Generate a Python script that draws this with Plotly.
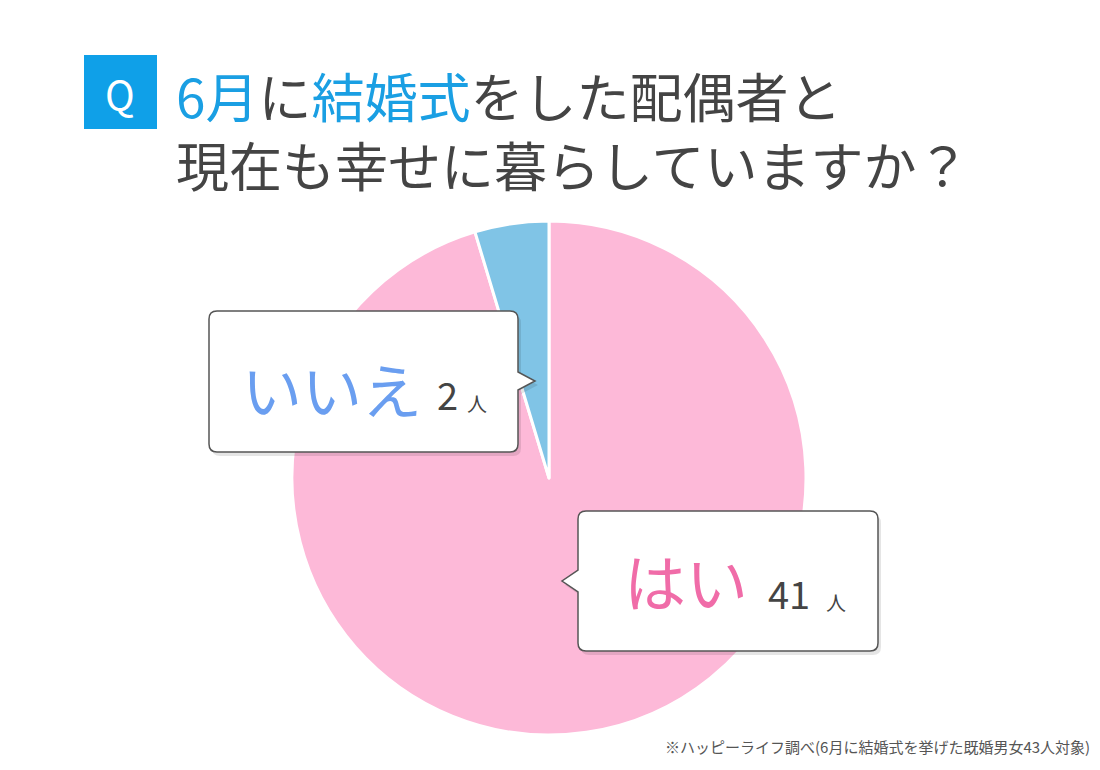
import plotly.graph_objects as go

labels = ["はい", "いいえ"]
counts = [41, 2]
colors = ["#FDB9D8", "#80C4E6"]
title_line1 = [("6月", "#1A9FE3"), ("に", "#444444"), ("結婚式", "#1A9FE3"), ("をした配偶者と", "#444444")]
title_line2 = "現在も幸せに暮らしていますか？"
note = "※ハッピーライフ調べ(6月に結婚式を挙げた既婚男女43人対象)"

W, H = 1100, 770
FONT = "Noto Sans CJK JP"
OFF = 8  # page margin of the html body


def px(x):
    return (x - OFF) / W


def py(y):
    return 1 - (y - OFF) / H


def callout(x0, y0, x1, y1, side, tip, r=8, dx=0, dy=0):
    # rounded box with a little pointer, built in pixels then put in paper units
    x0, x1, y0, y1 = x0 + dx, x1 + dx, y0 + dy, y1 + dy
    ty0, tx, ty, ty1 = tip[0] + dy, tip[1] + dx, tip[2] + dy, tip[3] + dy
    p = "M {} {} ".format(px(x0 + r), py(y0))
    p += "L {} {} ".format(px(x1 - r), py(y0))
    p += "Q {} {} {} {} ".format(px(x1), py(y0), px(x1), py(y0 + r))
    if side == "right":
        p += "L {} {} L {} {} L {} {} ".format(px(x1), py(ty0), px(tx), py(ty), px(x1), py(ty1))
    p += "L {} {} ".format(px(x1), py(y1 - r))
    p += "Q {} {} {} {} ".format(px(x1), py(y1), px(x1 - r), py(y1))
    p += "L {} {} ".format(px(x0 + r), py(y1))
    p += "Q {} {} {} {} ".format(px(x0), py(y1), px(x0), py(y1 - r))
    if side == "left":
        p += "L {} {} L {} {} L {} {} ".format(px(x0), py(ty1), px(tx), py(ty), px(x0), py(ty0))
    p += "L {} {} ".format(px(x0), py(y0 + r))
    p += "Q {} {} {} {} Z".format(px(x0), py(y0), px(x0 + r), py(y0))
    return p


fig = go.Figure()
fig.add_trace(go.Pie(
    labels=labels, values=counts, sort=False, direction="clockwise", rotation=0,
    marker=dict(colors=colors, line=dict(color="white", width=3)),
    textinfo="none", hoverinfo="label+value", showlegend=False,
    domain=dict(x=[px(292), px(806)], y=[py(735), py(221)]),
))

shapes = []
boxes = [
    (209, 311, 518, 452, "right", (372, 535, 381, 390)),
    (578, 511, 878, 651, "left", (570, 562, 581, 592)),
]
for b in boxes:
    shapes.append(dict(type="path", xref="paper", yref="paper",
                       path=callout(*b, dx=3, dy=4), fillcolor="rgba(0,0,0,0.10)",
                       line=dict(width=0), layer="above"))
    shapes.append(dict(type="path", xref="paper", yref="paper",
                       path=callout(*b), fillcolor="white",
                       line=dict(color="#555555", width=1.5), layer="above"))
# Q box
shapes.append(dict(type="rect", xref="paper", yref="paper",
                   x0=px(84), x1=px(157), y0=py(129), y1=py(55),
                   fillcolor="#0FA0E8", line=dict(width=0)))

ann = []


def txt(x, y, t, size, color, anchor="left"):
    ann.append(dict(x=px(x), y=py(y), xref="paper", yref="paper", text=t, showarrow=False,
                    xanchor=anchor, yanchor="middle", align="left",
                    font=dict(family=FONT, size=size, color=color)))


txt(120, 93, "Q", 40, "white", "center")
line1 = "".join("<span style='color:{}'>{}</span>".format(c, s) for s, c in title_line1)
txt(174, 130, line1 + "<br>" + title_line2, 53, "#444444")

txt(240, 388, labels[1], 60, "#6A9EF0")
txt(435, 394, str(counts[1]), 38, "#444444")
txt(465, 404, "人", 20, "#444444")

txt(622, 580, labels[0], 62, "#F06CA8")
txt(766, 592, str(counts[0]), 38, "#444444")
txt(824, 602, "人", 20, "#444444")

txt(1092, 746, note, 15, "#555555", "right")

fig.update_layout(width=W, height=H, autosize=False, margin=dict(l=0, r=0, t=0, b=0),
                  paper_bgcolor="white", plot_bgcolor="white",
                  shapes=shapes, annotations=ann)
fig.write_html("out.html")
